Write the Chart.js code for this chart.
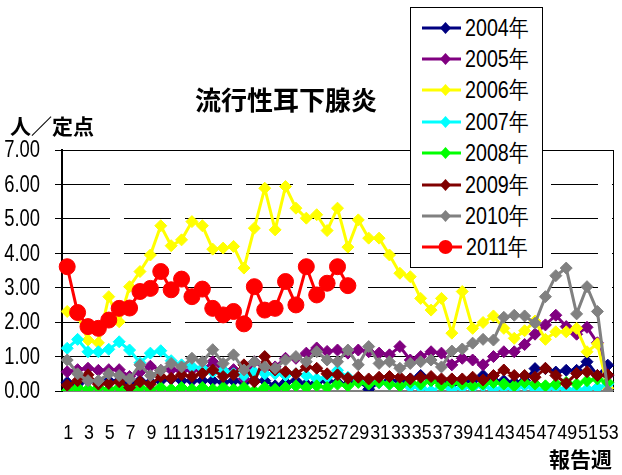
<!DOCTYPE html>
<html lang="ja">
<head>
<meta charset="utf-8">
<title>流行性耳下腺炎</title>
<script src="https://cdn.jsdelivr.net/npm/chart.js@4/dist/chart.umd.min.js"></script>
<style>
  body { margin: 0; background: #fff; }
  #wrap { position: relative; width: 622px; height: 475px; }
  .cap { position: absolute; font-family: "Noto Sans CJK JP", sans-serif; font-weight: bold; color: #000; white-space: nowrap; }
  #title { left: 195px; top: 86px; font-size: 26px; line-height: 26px; }
  #ylab { left: 10px; top: 114px; font-size: 21px; line-height: 22px; }
  #xlab { left: 549px; top: 447px; font-size: 21px; line-height: 22px; }
  #legend { position: absolute; left: 410px; top: 7px; width: 131px; height: 255px; padding-top: 4px;
            border: 1px solid #000; background: #fff; }
  #legend .item { display: flex; align-items: center; height: 31.4px; padding-left: 11px; white-space: nowrap; }
  #legend .item span { display: inline-block; margin-left: 4px; font: 24px "Liberation Sans", sans-serif;
                       transform: scaleX(0.82); transform-origin: left center; }
</style>
</head>
<body>
<div id="wrap">
  <canvas id="chart" width="622" height="475"></canvas>
  <div class="cap" id="title">流行性耳下腺炎</div>
  <div class="cap" id="ylab">人／定点</div>
  <div class="cap" id="xlab">報告週</div>
  <div id="legend"></div>
</div>
<script>
// report weeks 1..53
const weeks = ['1','2','3','4','5','6','7','8','9','10','11','12','13','14','15','16','17','18','19','20',
  '21','22','23','24','25','26','27','28','29','30','31','32','33','34','35','36','37','38','39','40',
  '41','42','43','44','45','46','47','48','49','50','51','52','53'];

// cases per sentinel site
const y2004 = [0.25,0.2,0.3,0.25,0.3,0.3,0.2,0.3,0.25,0.3,0.35,0.3,0.3,
  0.3,0.3,0.25,0.3,0.25,0.3,0.3,0.15,0.25,0.3,0.2,0.25,0.3,
  0.25,0.2,0.3,0.05,0.25,0.3,0.3,0.35,0.45,0.3,0.3,0.2,0.25,
  0.3,0.45,0.3,0.3,0.25,0.3,0.65,0.65,0.55,0.6,0.6,0.85,0.45,0.75];
const y2005 = [0.56,0.62,0.66,0.6,0.62,0.62,0.42,0.55,0.72,0.6,0.62,0.58,0.62,
  0.6,0.85,0.6,0.62,0.35,0.85,0.65,0.7,0.95,0.95,1.1,1.25,1.15,
  1.19,1.1,1.19,1.14,1.1,1.05,1.29,0.9,1.0,1.14,1.1,0.76,0.95,
  0.9,0.76,1.0,1.14,1.14,1.35,1.65,1.92,2.2,1.87,1.65,1.85,1.4,0.45];
const y2006 = [2.31,2.2,1.48,1.4,2.74,2.01,3.03,3.47,3.95,4.8,4.22,4.39,4.92,
  4.8,4.12,4.15,4.2,3.57,4.73,5.89,4.68,5.94,5.31,5.02,5.12,4.66,
  5.31,4.18,4.97,4.44,4.44,3.95,3.42,3.32,2.69,2.35,2.69,1.68,2.89,
  1.82,1.99,2.18,1.82,1.53,1.75,2.03,1.5,1.72,1.72,1.82,1.14,1.37,0.08];
const y2007 = [1.24,1.5,1.14,1.14,1.21,1.43,1.19,0.82,1.1,1.17,0.88,0.76,0.71,
  0.66,0.55,0.6,0.5,0.45,0.55,0.5,0.5,0.45,0.5,0.45,0.35,0.4,
  0.6,0.4,0.35,0.27,0.25,0.2,0.15,0.12,0.1,0.0,0.15,0.05,0.1,
  0.1,0.15,0.05,0.1,0.05,0.15,0.05,0.05,0.1,0.05,0.05,0.05,0.1,0.2];
const y2008 = [0.0,0.1,0.05,0.1,0.05,0.1,0.0,0.1,0.05,0.1,0.05,0.1,0.05,
  0.1,0.05,0.1,0.05,0.1,0.0,0.1,0.05,0.1,0.15,0.1,0.15,0.1,
  0.2,0.15,0.25,0.2,0.25,0.2,0.15,0.25,0.2,0.3,0.15,0.25,0.2,
  0.15,0.2,0.25,0.2,0.15,0.25,0.2,0.15,0.2,0.25,0.2,0.3,0.35,0.25];
const y2009 = [0.17,0.3,0.47,0.2,0.22,0.27,0.1,0.27,0.2,0.42,0.37,0.47,0.42,
  0.51,0.61,0.42,0.47,0.76,0.27,1.0,0.61,0.56,0.5,0.7,0.66,0.5,
  0.47,0.37,0.4,0.35,0.4,0.42,0.4,0.35,0.4,0.42,0.35,0.35,0.35,
  0.4,0.32,0.45,0.61,0.45,0.45,0.4,0.66,0.45,0.22,0.51,0.56,0.45,0.47];
const y2010 = [0.9,0.5,0.3,0.3,0.5,0.45,0.35,0.76,0.45,0.6,0.8,0.7,0.95,
  0.85,1.2,0.8,1.05,0.61,0.85,0.7,0.66,0.9,1.0,0.85,1.14,0.9,
  0.85,1.19,0.76,1.29,0.8,0.85,0.66,0.8,0.85,0.9,0.7,1.16,1.22,
  1.39,1.5,1.48,2.14,2.2,2.18,1.97,2.74,3.35,3.57,2.24,3.03,2.31,0.0];
const y2011 = [3.61,2.28,1.87,1.82,2.06,2.4,2.41,2.89,2.98,3.47,2.94,3.25,2.74,
  2.96,2.4,2.21,2.31,1.95,3.03,2.35,2.4,3.18,2.5,3.61,2.79,3.13,
  3.61,3.06];

const years = ['2004年','2005年','2006年','2007年','2008年','2009年','2010年','2011年'];
const series = [y2004, y2005, y2006, y2007, y2008, y2009, y2010, y2011];
const colors = ['#000080','#800080','#ffff00','#00ffff','#00ff00','#800000','#808080','#ff0000'];

const datasets = series.map((data, i) => {
  const last = i === series.length - 1;
  return {
    label: years[i],
    data,
    borderColor: colors[i],
    backgroundColor: colors[i],
    borderWidth: 3,
    pointStyle: last ? 'circle' : 'rectRot',
    pointRadius: last ? 8 : 6,
    pointBorderWidth: 1,
    tension: 0,
    order: series.length - 1 - i // later years drawn on top
  };
});

// tick labels in a squeezed face, placed from the scales
const narrowLabels = {
  id: 'narrowLabels',
  afterDraw(chart) {
    const { ctx, scales: { x, y } } = chart;
    ctx.save();
    ctx.fillStyle = '#000';
    ctx.textBaseline = 'middle';
    ctx.font = '23px "Liberation Sans"';
    ctx.textAlign = 'right';
    y.ticks.forEach(t => {
      ctx.save();
      ctx.translate(40, y.getPixelForValue(t.value) + 1);
      ctx.scale(0.8, 1);
      ctx.fillText(t.value.toFixed(2), 0, 0);
      ctx.restore();
    });
    ctx.font = '21px "Liberation Sans"';
    ctx.textAlign = 'center';
    weeks.forEach((w, i) => {
      if (i % 2) return;
      ctx.save();
      ctx.translate(x.getPixelForValue(i) + 1, 433);
      ctx.scale(0.85, 1);
      ctx.fillText(w, 0, 0);
      ctx.restore();
    });
    ctx.restore();
  }
};

const chart = new Chart(document.getElementById('chart'), {
  type: 'line',
  data: { labels: weeks, datasets },
  plugins: [narrowLabels],
  options: {
    responsive: false,
    animation: false,
    devicePixelRatio: 1,
    layout: { padding: { top: 150, right: 9, left: 0, bottom: 0 } },
    plugins: { legend: { display: false }, tooltip: { enabled: false } },
    scales: {
      x: {
        offset: true,
        afterFit: s => { s.height = 84; },
        grid: { display: false },
        border: { color: '#808080', width: 2 },
        ticks: { display: false, autoSkip: false, maxRotation: 0 }
      },
      y: {
        min: 0, max: 7,
        afterFit: s => { s.width = 62; },
        grid: { color: '#000', lineWidth: 1, tickLength: 7, tickColor: '#000' },
        border: { color: '#000', width: 2, dash: ctx => (ctx.tick && ctx.tick.value === 7 ? [] : [47, 14]) },
        ticks: { display: false, stepSize: 1 }
      },
      y2: {
        position: 'right', min: 0, max: 7,
        afterFit: s => { s.width = 0; },
        grid: { display: false },
        ticks: { display: false },
        border: { color: '#000', width: 1 }
      }
    }
  }
});

// legend box drawn over the plot, top right
const legendBox = document.getElementById('legend');
chart.data.datasets.forEach(ds => {
  const c = ds.borderColor;
  const mark = ds.pointStyle === 'circle'
    ? `<circle cx="23.5" cy="10" r="7" fill="${c}"/>`
    : `<polygon points="23.5,4 29,10 23.5,16 18,10" fill="${c}"/>`;
  const row = document.createElement('div');
  row.className = 'item';
  row.innerHTML = `<svg width="47" height="20"><line x1="0" y1="10" x2="47" y2="10" stroke="${c}" stroke-width="3"/>${mark}</svg><span>${ds.label}</span>`;
  legendBox.appendChild(row);
});
</script>
</body>
</html>
